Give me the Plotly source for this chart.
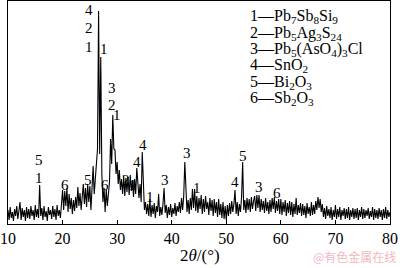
import plotly.graph_objects as go

# XRD pattern: intensity (arbitrary units) sampled every 0.2 deg from 10 to 80
two_theta_start = 10.0
two_theta_step = 0.2
intensity = [
    14, 4, 17, 6, 12, 3, 15, 8, 18, 5,       # 10-11.8
    13, 22, 4, 16, 7, 14, 3, 17, 6, 15,      # 12-13.8
    5, 18, 8, 14, 4, 19, 7, 15, 6, 39,      # 14-15.8
    8, 16, 4, 18, 7, 13, 3, 17, 9, 14,      # 16-17.8
    5, 18, 7, 15, 4, 19, 8, 14, 6, 26,      # 18-19.8
    34, 14, 33, 18, 36, 12, 30, 15, 26, 10,  # 20-21.8
    24, 13, 27, 16, 37, 18, 31, 14, 29, 40,  # 22-23.8
    20, 36, 17, 40, 22, 38, 14, 45, 58, 30,  # 24-25.8
    48, 59, 75, 213, 70, 167, 50, 22, 36, 12,  # 26-27.8
    35, 18, 33, 42, 85, 60, 109, 75, 74, 50,   # 28-29.8
    62, 40, 54, 34, 45, 30, 48, 28, 46, 32,    # 30-31.8
    47, 29, 49, 33, 44, 27, 45, 30, 56, 34,    # 32-33.8
    26, 40, 22, 72, 30, 14, 22, 10, 20, 8,     # 34-35.8
    25, 7, 19, 10, 21, 6, 18, 12, 30, 8,       # 36-37.8
    17, 9, 20, 36, 11, 19, 6, 17, 9, 20,       # 38-39.8
    7, 16, 10, 21, 8, 18, 12, 22, 11, 26,      # 40-41.8
    14, 28, 62, 26, 12, 24, 10, 26, 14, 35,    # 42-43.8
    16, 35, 13, 28, 11, 26, 15, 29, 10, 25,    # 44-45.8
    12, 28, 15, 22, 9, 26, 13, 24, 8, 25,      # 46-47.8
    11, 22, 7, 25, 9, 20, 6, 22, 5, 18,        # 48-49.8
    4, 19, 8, 21, 10, 23, 12, 20, 34, 10,      # 50-51.8
    22, 8, 20, 12, 27, 62, 14, 24, 11, 26,     # 52-53.8
    14, 25, 12, 27, 15, 23, 28, 13, 29, 16,    # 54-55.8
    29, 12, 25, 14, 23, 11, 26, 13, 22, 10,    # 56-57.8
    24, 12, 26, 15, 27, 11, 23, 13, 25, 10,    # 58-59.8
    25, 9, 22, 12, 24, 8, 21, 11, 23, 9,       # 60-61.8
    22, 7, 20, 10, 26, 9, 19, 11, 21, 8,       # 62-63.8
    20, 9, 18, 6, 21, 10, 17, 8, 22, 9,        # 64-65.8
    19, 10, 23, 14, 27, 16, 25, 12, 20, 7,     # 66-67.8
    16, 5, 18, 8, 15, 6, 17, 4, 14, 7,         # 68-69.8
    19, 5, 15, 7, 17, 4, 14, 8, 16, 5,         # 70-71.8
    15, 6, 17, 4, 14, 7, 16, 5, 15, 6,         # 72-73.8
    16, 4, 14, 7, 17, 5, 15, 6, 14, 8,         # 74-75.8
    16, 5, 13, 7, 17, 4, 15, 6, 14, 5,         # 76-77.8
    16, 7, 14, 4, 15, 6, 17, 5, 14, 7,         # 78-79.8
    12,                                        # 80
]
two_theta = [round(two_theta_start + i * two_theta_step, 1) for i in range(len(intensity))]

# Peak markers: label position (2theta, intensity units) and phase number
peak_label_x = [15.7, 15.7, 20.45, 24.7, 24.9, 24.9, 24.9, 27.6, 27.8, 29.1, 29.1, 30.0,
                31.6, 32.9, 33.6, 34.7, 36.0, 38.8, 42.8, 44.6, 51.6, 53.1, 56.0, 59.3]
peak_label_y = [64, 46, 39, 44, 214, 196, 177, 175, 39, 136, 119, 109,
                44, 39, 62, 79, 27, 44, 71, 36, 42, 68, 37, 31]
peak_label_text = ["5", "1", "6", "5", "4", "2", "1", "1", "6", "3", "2", "1",
                   "2", "1", "4", "4", "1", "3", "3", "1", "4", "5", "3", "6"]

legend_lines = [
    "1\u2014Pb<sub>7</sub>Sb<sub>8</sub>Si<sub>9</sub>",
    "2\u2014Pb<sub>5</sub>Ag<sub>3</sub>S<sub>24</sub>",
    "3\u2014Pb<sub>5</sub>(AsO<sub>4</sub>)<sub>3</sub>Cl",
    "4\u2014SnO<sub>2</sub>",
    "5\u2014Bi<sub>2</sub>O<sub>3</sub>",
    "6\u2014Sb<sub>2</sub>O<sub>3</sub>",
]

x_ticks = [10, 20, 30, 40, 50, 60, 70, 80]

serif = "Liberation Serif, Times New Roman, serif"

# plot area in pixels
ML, MR, MT, MB = 8, 10, 1, 44
W, H = 400, 268
plot_w = W - ML - MR
plot_h = H - MT - MB


def px_to_paper(px, py):
    return (px - ML) / plot_w, 1 - (py - MT) / plot_h


fig = go.Figure()
fig.add_trace(go.Scatter(x=two_theta, y=intensity, mode="lines",
                         line=dict(color="black", width=1.1), hoverinfo="skip",
                         showlegend=False))

annotations = []
for lx, ly, t in zip(peak_label_x, peak_label_y, peak_label_text):
    annotations.append(dict(x=lx, y=ly, xref="x", yref="y", text=t, showarrow=False,
                            font=dict(family=serif, size=15, color="#000000"),
                            xanchor="center", yanchor="middle"))

for i, line in enumerate(legend_lines):
    ax, ay = px_to_paper(248, 17 + i * 16.3)
    annotations.append(dict(x=ax, y=ay, xref="paper", yref="paper", text=line,
                            showarrow=False, font=dict(family=serif, size=16, color="#000000"),
                            xanchor="left", yanchor="middle"))

tx, ty = px_to_paper(200, 255)
annotations.append(dict(x=tx, y=ty, xref="paper", yref="paper",
                        text="2<i>\u03b8</i>/(\u00b0)", showarrow=False,
                        font=dict(family=serif, size=17, color="#000000"),
                        xanchor="center", yanchor="middle"))
wx, wy = px_to_paper(398, 256)
annotations.append(dict(x=wx, y=wy, xref="paper", yref="paper",
                        text="@有色金属在线", showarrow=False,
                        font=dict(family="Noto Sans CJK SC", size=12, color="#f2b8c0"),
                        xanchor="right", yanchor="middle"))

fig.update_layout(
    width=W, height=H,
    margin=dict(l=ML, r=MR, t=MT, b=MB),
    plot_bgcolor="white", paper_bgcolor="white",
    showlegend=False,
    xaxis=dict(range=[10, 80], tickvals=x_ticks, ticktext=[str(v) for v in x_ticks],
               ticks="inside", ticklen=4, tickcolor="black", tickwidth=1,
               showline=True, linecolor="black", linewidth=1.2, mirror=True,
               showgrid=False, zeroline=False,
               tickfont=dict(family=serif, size=16, color="black")),
    yaxis=dict(range=[0, 223], showticklabels=False, ticks="",
               showline=True, linecolor="black", linewidth=1.2, mirror=True,
               showgrid=False, zeroline=False),
    annotations=annotations,
)

fig.write_html("out.html")
